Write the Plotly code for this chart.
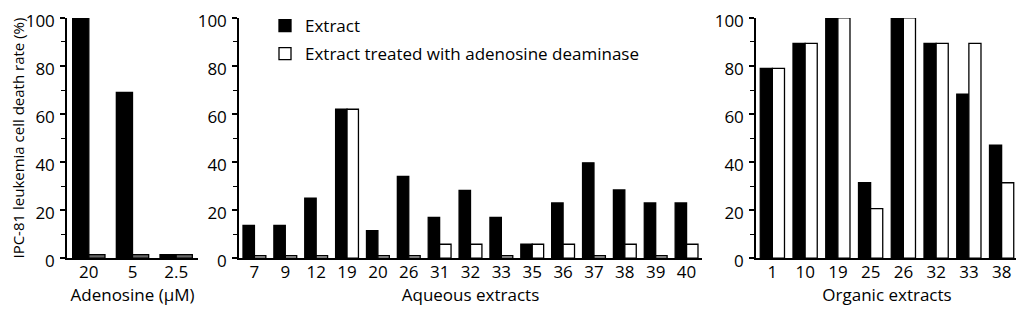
import plotly.graph_objects as go

# Adenosine panel
adeno_cats = ["20", "5", "2.5"]
adeno_plain = [101, 69, 1.5]
adeno_treated = [1.5, 1.5, 1.5]

# Aqueous extracts panel
aq_cats = ["7", "9", "12", "19", "20", "26", "31", "32", "33", "35", "36", "37", "38", "39", "40"]
aq_extract = [13.6, 13.6, 25, 62, 11.5, 34, 17, 28.2, 17, 5.8, 23, 39.7, 28.4, 23, 23]
aq_treated = [1, 1, 1, 62, 1, 1, 5.8, 5.8, 1, 5.8, 5.8, 1, 5.8, 1, 5.8]

# Organic extracts panel
org_cats = ["1", "10", "19", "25", "26", "32", "33", "38"]
org_extract = [79, 89.4, 100, 31.4, 100, 89.4, 68.3, 47.1]
org_treated = [79, 89.4, 100, 20.6, 100, 89.4, 89.4, 31.4]

FONT = "Open Sans"
# the page body has an 8px margin, so the figure is drawn 8px in from the corner
OFF = 8
W, H = 1024 - OFF, 310 - OFF


def px(x):
    return (x - OFF) / W


def py(y):
    return (H - (y - OFF)) / H


y_dom = [py(258), py(17)]
panels = [
    (adeno_cats, adeno_plain, adeno_treated, "Adenosine (\u00b5M)", [px(67), px(198)], "#666666"),
    (aq_cats, aq_extract, aq_treated, "Aqueous extracts", [px(239), px(702)], "white"),
    (org_cats, org_extract, org_treated, "Organic extracts", [px(756), px(1018)], "white"),
]

fig = go.Figure()
layout = dict(
    width=W, height=H,
    margin=dict(l=0, r=0, t=0, b=0),
    paper_bgcolor="white", plot_bgcolor="white",
    font=dict(family=FONT, size=17, color="black"),
    barmode="group",
    showlegend=True,
    legend=dict(
        x=px(265), y=py(7), xanchor="left", yanchor="top",
        font=dict(size=17), tracegroupgap=3, itemwidth=30,
        bgcolor="rgba(0,0,0,0)",
    ),
)

for i, (cats, a, b, title, dom, col2) in enumerate(panels):
    n = len(cats)
    xs = list(range(n))
    k = i + 1
    xa = "x" if k == 1 else f"x{k}"
    ya = "y" if k == 1 else f"y{k}"
    fig.add_trace(go.Bar(
        x=xs, y=a, xaxis=xa, yaxis=ya, name="Extract", legendgroup="a",
        marker=dict(color="black", line=dict(color="black", width=1.3)),
        showlegend=(k == 2), cliponaxis=False, offsetgroup="a",
    ))
    fig.add_trace(go.Bar(
        x=xs, y=b, xaxis=xa, yaxis=ya, name="Extract treated with adenosine deaminase",
        legendgroup="b",
        marker=dict(color=col2, line=dict(color="black", width=1.3)),
        showlegend=(k == 2), cliponaxis=False, offsetgroup="b",
    ))
    # label axis (categories at centers)
    layout[f"xaxis{'' if k == 1 else k}"] = dict(
        domain=dom, anchor=ya, range=[-0.5, n - 0.5], automargin=False,
        tickvals=xs, ticktext=cats, ticks="", showgrid=False, zeroline=False,
        showline=True, linecolor="black", linewidth=1.5,
        tickfont=dict(size=17), ticklabelstandoff=-2, ticklabeloverflow="allow",
        title=dict(text=title, font=dict(size=17), standoff=5),
    )
    # tick-mark axis at category boundaries
    layout[f"xaxis{k + 3}"] = dict(
        overlaying=xa, anchor=ya, range=[-0.5, n - 0.5], automargin=False,
        tickvals=[j - 0.5 for j in range(n + 1)], showticklabels=False,
        ticks="outside", ticklen=5, tickwidth=1.5, tickcolor="black",
        showgrid=False, zeroline=False, showline=False,
    )
    layout[f"yaxis{'' if k == 1 else k}"] = dict(
        domain=y_dom, anchor=xa, range=[0, 100], automargin=False,
        tickvals=[0, 20, 40, 60, 80, 100], ticks="outside", ticklen=5,
        tickwidth=1.5, tickcolor="black",
        minor=dict(dtick=10, tick0=0, ticks="outside", ticklen=4, tickwidth=1.2, tickcolor="black"),
        showgrid=False, zeroline=False, showline=True, linecolor="black", linewidth=1.5,
        tickfont=dict(size=17), ticklabelstandoff=2, ticklabelshift=3,
        ticklabeloverflow="allow",
        title=dict(text="IPC-81 leukemia cell death rate (%)" if k == 1 else "", font=dict(size=15), standoff=1),
    )

layout["bargap"] = 0.26
layout["bargroupgap"] = 0
fig.update_layout(**layout)

fig.write_html("out.html")
